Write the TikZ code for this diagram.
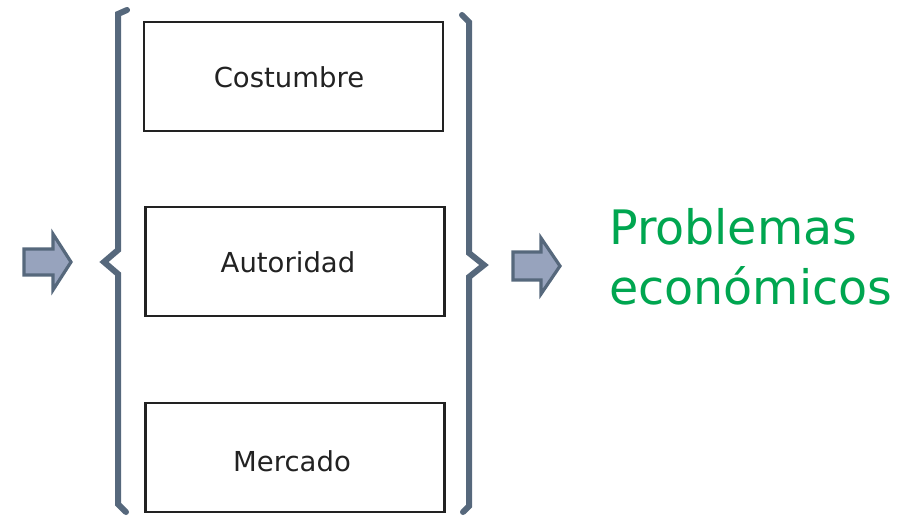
\documentclass[tikz,border=0pt]{standalone}
\usepackage{fontspec}
\setmainfont{DejaVu Sans}
\definecolor{brace}{HTML}{56687C}
\definecolor{arrowfill}{HTML}{97A3BD}
\definecolor{green}{HTML}{00A650}
\definecolor{txt}{HTML}{222222}
\begin{document}
\begin{tikzpicture}[x=1pt,y=-1pt,
  box/.style={draw=txt,line width=2.6pt,minimum width=299pt,minimum height=109pt,inner sep=0pt},
  boxtext/.style={font=\fontsize{27.5}{32}\selectfont,text=txt,anchor=base},
  bracestyle/.style={draw=brace,line width=6pt,line cap=round,line join=miter},
  arrowstyle/.style={draw=brace,fill=arrowfill,line width=3.2pt,line join=miter}]
\useasboundingbox (0,0) rectangle (908,515);
\node[box] (c) at (293.5,76.5) {};
\node[box] (a) at (295,261.5) {};
\node[box] (m) at (295,457.5) {};
\node[boxtext] (ct) at (289,87) {Costumbre};
\node[boxtext] (at) at (288,272) {Autoridad};
\node[boxtext] (mt) at (292,471) {Mercado};
\draw[bracestyle] (127,10) -- (118,14) -- (118,250) -- (104,262) -- (118,274) -- (118,504) -- (126,512);
\draw[bracestyle] (462,15) -- (469,22) -- (469,253) -- (484,265) -- (469,277) -- (469,506) -- (463,512);
\draw[arrowstyle] (24,249) -- (53,249) -- (53,234) -- (71,262) -- (53,290) -- (53,275) -- (24,275) -- cycle;
\draw[arrowstyle] (513,252) -- (541,252) -- (541,238) -- (560,266) -- (541,294) -- (541,280) -- (513,280) -- cycle;
\node[font=\fontsize{47.5}{60}\selectfont,text=green,align=left,anchor=base west,inner sep=0pt] (p) at (609,304) {Problemas\\económicos};
\end{tikzpicture}
\end{document}
